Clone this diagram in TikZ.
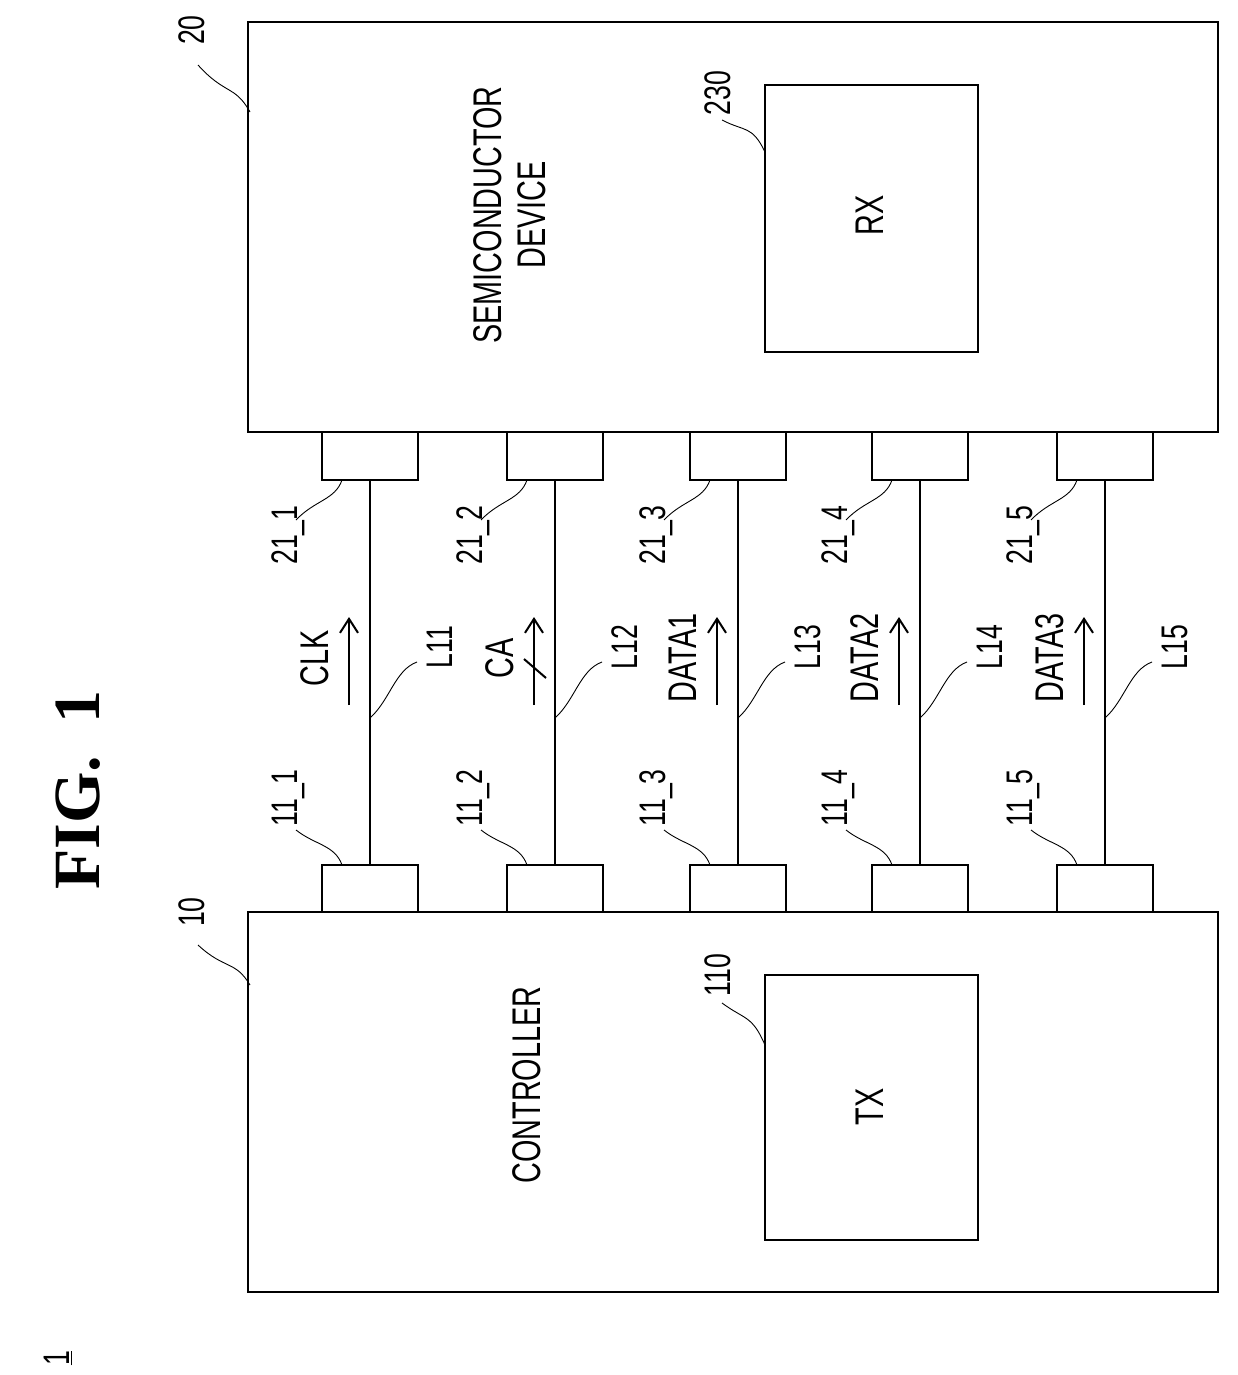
\documentclass[tikz,border=0pt]{standalone}
\usetikzlibrary{arrows.meta}
\usepackage{fontspec}
\setmainfont{Liberation Sans}[FakeStretch=0.72]
\newfontfamily\figfont{Liberation Serif}
\begin{document}
\begin{tikzpicture}[x=1pt,y=-1pt,
  box/.style={draw,line width=2.6pt},
  pad/.style={draw,line width=2.4pt},
  lead/.style={line width=0.9pt},
  txt/.style={rotate=90,font=\fontsize{40}{44}\selectfont,align=center,inner sep=0},
  lbl/.style={rotate=90,font=\fontsize{37}{40}\selectfont,inner sep=0}]
\useasboundingbox (0,0) rectangle (1238,1375);
\node[rotate=90,font=\figfont\bfseries\fontsize{66}{70}\selectfont] (fig) at (78,790) {FIG.\ \ 1};
\node[lbl] (one) at (58,1358) {\underline{1}};
% controller
\draw[box] (248,912) rectangle (1218,1292);
\node[txt] (ctl) at (527,1085) {CONTROLLER};
\draw[box] (765,975) rectangle (978,1240);
\node[txt] (tx) at (870,1107) {TX};
\node[lbl] (n110) at (718,975) {110};
\draw[lead] (765,1045) .. controls (752,1015) and (745,1020) .. (722,1003);
\node[lbl] (n10) at (192,912) {10};
\draw[lead] (250,985) .. controls (235,960) and (225,970) .. (198,945);
% semiconductor
\draw[box] (248,22) rectangle (1218,432);
\node[txt] (sd) at (510,215) {SEMICONDUCTOR\\DEVICE};
\draw[box] (765,85) rectangle (978,352);
\node[txt] (rx) at (870,215) {RX};
\node[lbl] (n230) at (718,93) {230};
\draw[lead] (765,152) .. controls (752,125) and (745,132) .. (722,120);
\node[lbl] (n20) at (192,30) {20};
\draw[lead] (250,112) .. controls (235,85) and (225,95) .. (198,65);
% channels
\foreach \i/\x/\s in {1/370/CLK,2/555/CA,3/738/DATA1,4/920/DATA2,5/1105/DATA3}{
  \draw[pad] (\x-48,865) rectangle (\x+48,912);
  \draw[pad] (\x-48,432) rectangle (\x+48,480);
  \draw[line width=2.4pt] (\x,480) -- (\x,865);
  \node[lbl] (b\i) at (\x-82,798) {11\_\i};
  \draw[lead] (\x-28,865) .. controls (\x-35,845) and (\x-55,845) .. (\x-74,830);
  \node[lbl] (t\i) at (\x-82,535) {21\_\i};
  \draw[lead] (\x-28,480) .. controls (\x-35,500) and (\x-55,500) .. (\x-74,520);
  \node[lbl] (l\i) at (\x+70,647) {L1\i};
  \draw[lead] (\x,718) .. controls (\x+20,700) and (\x+25,670) .. (\x+47,662);
  \node[txt,anchor=center] (s\i) at (\x-55,658) {\s};
  \draw[line width=2pt,-{Straight Barb[length=14pt,width=18pt]}] (\x-21,705) -- (\x-21,617);
}
\draw[line width=2pt] (524,659) -- (546,678);
\end{tikzpicture}
\end{document}
